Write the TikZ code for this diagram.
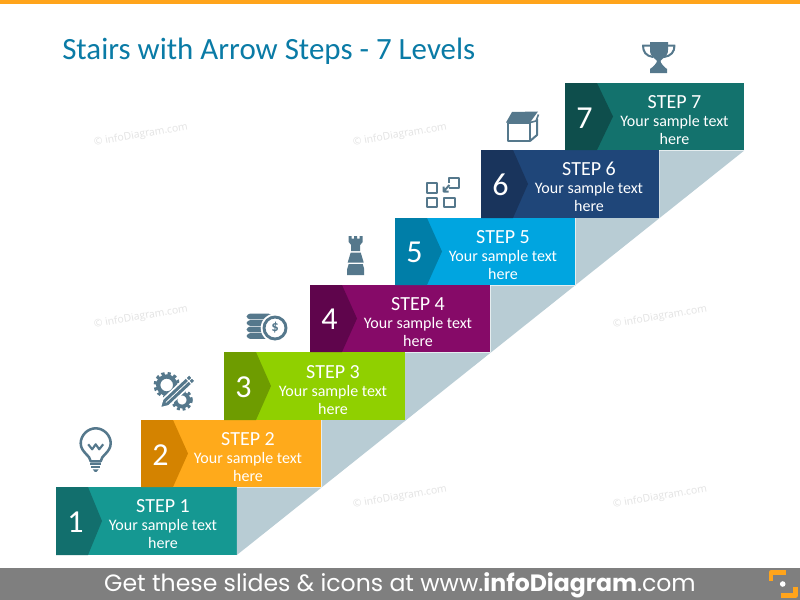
\documentclass[tikz,border=0pt]{standalone}
\usepackage{fontspec}
\setmainfont{Carlito}
\newfontfamily\barfont{Poppins}
\newfontfamily\markfont{Open Sans}

\definecolor{titleblue}{HTML}{0A7BA6}
\definecolor{iconblue}{HTML}{55788C}
\definecolor{stairshade}{HTML}{B8CCD4}
\definecolor{topbar}{HTML}{FFA41B}
\definecolor{barback}{HTML}{7F7F7F}
\definecolor{tealA}{HTML}{159892}
\definecolor{tealAd}{HTML}{126F6D}
\definecolor{orangeB}{HTML}{FFAA1B}
\definecolor{orangeBd}{HTML}{D48300}
\definecolor{greenC}{HTML}{90D000}
\definecolor{greenCd}{HTML}{6E9C00}
\definecolor{purpleD}{HTML}{860A68}
\definecolor{purpleDd}{HTML}{5F054C}
\definecolor{blueE}{HTML}{00A5E0}
\definecolor{blueEd}{HTML}{007EA8}
\definecolor{navyF}{HTML}{1F4679}
\definecolor{navyFd}{HTML}{19345C}
\definecolor{tealG}{HTML}{13726D}
\definecolor{tealGd}{HTML}{0E4E4C}

\begin{document}
\begin{tikzpicture}[
    x=0.75pt, y=-0.75pt,
    stepbox/.style={rectangle, inner sep=0pt, minimum width=135.4pt, minimum height=50.6pt},
    stepnum/.style={white, font=\fontsize{24}{26}\selectfont},
    steptext/.style={white, align=center, font=\fontsize{12}{13.5}\selectfont},
    iconline/.style={draw=iconblue, line width=1.6pt, line join=round},
    iconfill/.style={fill=iconblue},
    wmark/.style={gray!22, rotate=10, font=\markfont\fontsize{7.8}{9}\selectfont},
]

% Page, top line and bottom bar
\fill[white] (0,0) rectangle (800,600);
\useasboundingbox (0,0) rectangle (800,600);
\fill[topbar] (0,0) rectangle (800,3.5);
\fill[barback] (0,568) rectangle (800,600);

% Title
\node[titleblue, anchor=base west, inner sep=0pt, font=\fontsize{23.2}{26}\selectfont] (title) at (62,59) {Stairs with Arrow Steps - 7 Levels};

% Watermarks
\node[wmark] (wm1) at (141,135) {© infoDiagram.com};
\node[wmark] (wm2) at (400,135) {© infoDiagram.com};
\node[wmark] (wm3) at (141,317) {© infoDiagram.com};
\node[wmark] (wm4) at (660,317) {© infoDiagram.com};
\node[wmark] (wm5) at (400,497) {© infoDiagram.com};
\node[wmark] (wm6) at (660,497) {© infoDiagram.com};

% ================================================================
% STEPS: bright box, dark arrow part, number and text
% ================================================================
\begin{scope}[shift={(56,487)}]
    \node[stepbox, fill=tealA] (step1) at (90.3,34) {};
    \fill[tealAd] (0,0) -- (32,0) -- (46,34) -- (32,68) -- (0,68) -- cycle;
    \node[stepnum] (num1) at (19.5,35) {1};
    \node[steptext] (text1) at (107,37) {{\fontsize{15}{15}\selectfont STEP 1}\\Your sample text\\here};
\end{scope}

\begin{scope}[shift={(141,420)}]
    \node[stepbox, fill=orangeB] (step2) at (90,33.5) {};
    \fill[orangeBd] (0,0) -- (32,0) -- (47,33.5) -- (32,67) -- (0,67) -- cycle;
    \node[stepnum] (num2) at (19.5,35) {2};
    \node[steptext] (text2) at (107,37) {{\fontsize{15}{15}\selectfont STEP 2}\\Your sample text\\here};
\end{scope}

\begin{scope}[shift={(224,352)}]
    \node[stepbox, fill=greenC] (step3) at (90.5,34) {};
    \fill[greenCd] (0,0) -- (32,0) -- (47,34) -- (32,68) -- (0,68) -- cycle;
    \node[stepnum] (num3) at (19.5,35) {3};
    \node[steptext] (text3) at (109,38) {{\fontsize{15}{15}\selectfont STEP 3}\\Your sample text\\here};
\end{scope}

\begin{scope}[shift={(310,285)}]
    \node[stepbox, fill=purpleD] (step4) at (90,33.5) {};
    \fill[purpleDd] (0,0) -- (32,0) -- (47,33.5) -- (32,67) -- (0,67) -- cycle;
    \node[stepnum] (num4) at (19.5,34) {4};
    \node[steptext] (text4) at (108,37) {{\fontsize{15}{15}\selectfont STEP 4}\\Your sample text\\here};
\end{scope}

\begin{scope}[shift={(395,218)}]
    \node[stepbox, fill=blueE] (step5) at (90,33.5) {};
    \fill[blueEd] (0,0) -- (32,0) -- (47,33.5) -- (32,67) -- (0,67) -- cycle;
    \node[stepnum] (num5) at (19.5,34) {5};
    \node[steptext] (text5) at (108,37) {{\fontsize{15}{15}\selectfont STEP 5}\\Your sample text\\here};
\end{scope}

\begin{scope}[shift={(481,150)}]
    \node[stepbox, fill=navyF, minimum width=133.5pt] (step6) at (89,34) {};
    \fill[navyFd] (0,0) -- (32,0) -- (47,34) -- (32,68) -- (0,68) -- cycle;
    \node[stepnum] (num6) at (19.5,35) {6};
    \node[steptext] (text6) at (108,37) {{\fontsize{15}{15}\selectfont STEP 6}\\Your sample text\\here};
\end{scope}

\begin{scope}[shift={(565,83)}]
    \node[stepbox, fill=tealG, minimum width=134.25pt] (step7) at (89.5,33.5) {};
    \fill[tealGd] (0,0) -- (32,0) -- (48,33.5) -- (32,67) -- (0,67) -- cycle;
    \node[stepnum] (num7) at (19.5,35) {7};
    \node[steptext] (text7) at (109.5,37) {{\fontsize{15}{15}\selectfont STEP 7}\\Your sample text\\here};
\end{scope}

% Shade under the stairs
\fill[stairshade] (step1.south east) -- (step7.south east) -- (step7.south west -| step6.north east) -- (step6.south east)
    -- (step6.south east -| step5.north east) -- (step5.south east)
    -- (step5.south east -| step4.north east) -- (step4.south east)
    -- (step4.south east -| step3.north east) -- (step3.south east)
    -- (step3.south east -| step2.north east) -- (step2.south east)
    -- (step2.south east -| step1.north east) -- cycle;

% ================================================================
% ICONS
% ================================================================
% Bulb
\begin{scope}[shift={(95.7,443.3)}]
    \draw[iconline, line width=1.9pt] (-5,18) .. controls (-5,12.5) and (-15,9) .. (-15,0) .. controls (-15,-8) and (-8,-15) .. (0,-15)
        .. controls (8,-15) and (15,-8) .. (15,0) .. controls (15,9) and (5,12.5) .. (5,18) -- cycle;
    \draw[iconline] (-7.5,1) -- (-3.5,6) -- (0,1) -- (3.5,6) -- (7.5,1);
    \draw[iconline] (-5.5,20.5) -- (5.5,20.5) (-4.5,24) -- (4.5,24);
    \fill[iconfill] (-3,26) -- (3,26) -- (1,28.5) -- (-1,28.5) -- cycle;
\end{scope}

% Gears and pencil
\draw[iconblue, line width=3.2pt] (166.7,385) circle (8.5);
\draw[iconblue, line width=2.4pt, dash pattern=on 2.4pt off 2.2pt] (166.7,385) circle (11.6);
\draw[iconblue, line width=2.8pt] (182,400) circle (6.5);
\draw[iconblue, line width=2.2pt, dash pattern=on 2.2pt off 2pt] (182,400) circle (9.4);
\fill[iconfill, draw=white, line width=1.2pt, line join=round] (160,408) -- (162.7,399.2) -- (189.2,374.4) -- (195.4,381) -- (168.9,405.8) -- cycle;
\draw[white, line width=.6pt] (165.8,402.5) -- (192.3,377.7);
\draw[white, line width=.8pt] (186,378) -- (192,384.3);

% Coins
\foreach \rowy in {316.5,323,329.5,336} {
    \fill[iconfill, rounded corners=2.6pt] (246.7,\rowy-2.9) rectangle (272,\rowy+2.9);
}
\fill[white] (275,328) circle (14.3);
\draw[iconblue, line width=2.2pt] (275,328) circle (11);
\node[iconblue, inner sep=0pt, font=\bfseries\fontsize{11}{12}\selectfont] (dollar) at (275,328) {\$};

% Rook
\begin{scope}[shift={(355.7,236)}]
    \fill[iconfill] (-7,0) -- (-4,0) -- (-4,2.5) -- (-1.5,2.5) -- (-1.5,0) -- (1.5,0) -- (1.5,2.5) -- (4,2.5) -- (4,0) -- (7,0)
        -- (7,6) -- (4.5,9) -- (4.5,15) -- (-4.5,15) -- (-4.5,9) -- (-7,6) -- cycle;
    \fill[iconfill] (-5,16.5) -- (5,16.5) -- (8,26.5) -- (-8,26.5) -- cycle;
    \fill[iconfill] (-7,28) -- (7,28) -- (8.5,33) -- (8.5,39) -- (-8.5,39) -- (-8.5,33) -- cycle;
\end{scope}

% Squares and arrow
\draw[iconline, line width=1.5pt] (426.5,182.5) rectangle (437,192.5);
\draw[iconline, line width=1.5pt] (426.5,197.5) rectangle (437,207);
\draw[iconline, line width=1.5pt] (444,197.5) rectangle (454.5,207);
\draw[iconline, line width=1.5pt] (449,187.5) -- (459,187.5) -- (459,177.5) -- (449,177.5) -- (449,183);
\draw[iconline, line width=1.5pt] (449.5,185) -- (443.5,191.5) (443.5,186.5) -- (443.5,191.5) -- (448.5,191.5);

% Box
\draw[iconline, line width=1.5pt] (507.5,123) rectangle (530,141);
\draw[iconline, line width=1.5pt] (530,141) -- (537,135) -- (537,119);
\fill[iconfill] (506,122.5) -- (512,112) -- (538,111.5) -- (530,122.5) -- cycle;
\draw[iconline, line width=1.2pt] (530,122.5) -- (536,121) -- (538.5,114.5);

% Trophy
\fill[iconfill] (650,42) -- (668,42) -- (668,50) .. controls (668,57) and (662,58) .. (660.5,61) .. controls (660.5,63) and (664,67) .. (667,69)
    -- (667,73) -- (650,73) -- (650,69) .. controls (653,67) and (657,63) .. (657,61) .. controls (655,58) and (650,57) .. (650,50) -- cycle;
\draw[iconline, line width=1.5pt] (650,45.5) -- (643,45.5) .. controls (643,52) and (646,56) .. (653,57);
\draw[iconline, line width=1.5pt] (668,45.5) -- (674.5,45.5) .. controls (674.5,52) and (671,56) .. (664,57);

% Bottom bar text and logo
\node[white, inner sep=0pt, font=\barfont\fontsize{17.7}{20}\selectfont] (bartext) at (400,585) {Get these slides \& icons at www.{\bfseries infoDiagram}.com};
\draw[topbar, line width=3.2pt, line join=round] (771,581) -- (771,572.5) -- (785.5,572.5);
\draw[topbar, line width=3.2pt, line join=round] (781,595.5) -- (795.5,595.5) -- (795.5,587);
\fill[white] (782.7,584) circle (2.8);

\end{tikzpicture}
\end{document}
